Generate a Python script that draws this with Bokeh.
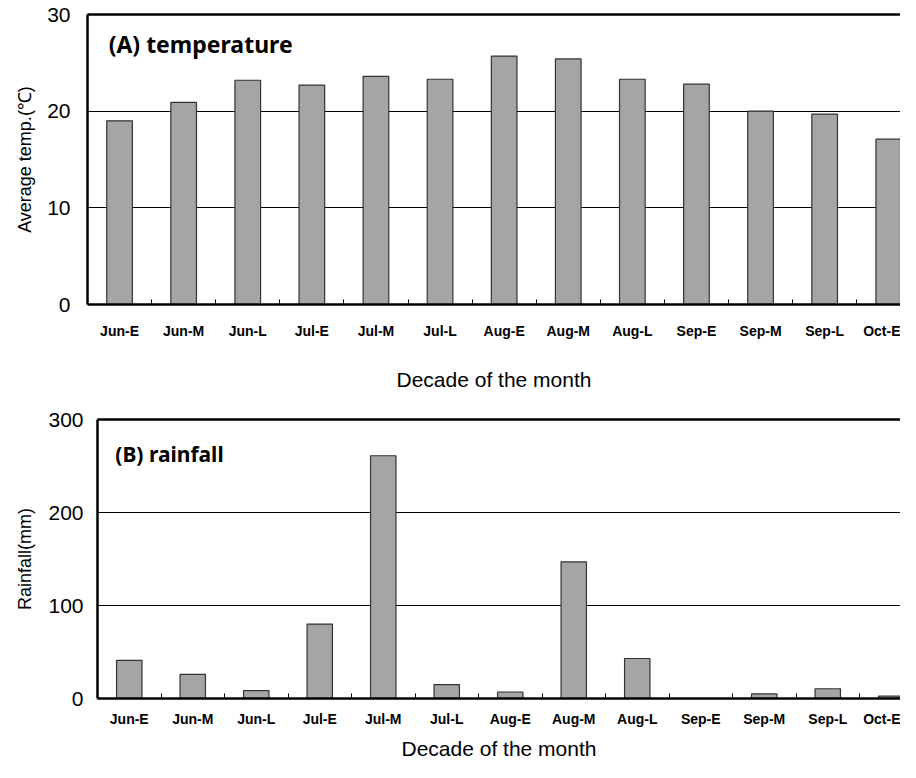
from bokeh.plotting import figure
from bokeh.models import Range1d, FixedTicker, LinearAxis, Label, ColumnDataSource
from bokeh.layouts import column, row
from bokeh.embed import file_html
from bokeh.resources import INLINE

decades = ["Jun-E", "Jun-M", "Jun-L", "Jul-E", "Jul-M", "Jul-L", "Aug-E",
           "Aug-M", "Aug-L", "Sep-E", "Sep-M", "Sep-L", "Oct-E"]
temperature = [19.0, 20.9, 23.2, 22.7, 23.6, 23.3, 25.7, 25.4, 23.3, 22.8, 20.0, 19.7, 17.1]
rainfall = [41, 26, 8.5, 80, 261, 15, 7, 147, 43, 0, 5, 10.5, 2.5]
temp_ticks = [0, 10, 20, 30]
rain_ticks = [0, 100, 200, 300]

FONT = "Liberation Sans"
W = 900


def make_panel(values, yticks, ylabel, title, title_size, title_xy,
               height, mb_left, mb_top, mb_bottom, x_start, slot_px,
               tick_standoff, label_standoff, ylab_standoff, ytick_standoff):
    pos = list(range(1, len(decades) + 1))
    src = ColumnDataSource(dict(x=pos, top=values, name=decades))
    x_end = x_start + (W - mb_left) / slot_px
    p = figure(width=W, height=height, output_backend="svg", toolbar_location=None,
               x_range=Range1d(x_start, x_end), y_range=Range1d(yticks[0], yticks[-1]),
               min_border_left=mb_left, min_border_right=0,
               min_border_top=mb_top, min_border_bottom=mb_bottom,
               background_fill_color="white", border_fill_color="white")
    p.outline_line_color = None
    p.vbar(x="x", top="top", width=0.4, source=src, fill_color="#a5a5a5",
           line_color="#333333", line_width=1.2)

    xa = p.xaxis[0]
    xa.ticker = FixedTicker(ticks=pos, minor_ticks=[v + 0.5 for v in pos])
    xa.major_label_overrides = {v: d for v, d in zip(pos, decades)}
    xa.axis_line_width = 2.5
    xa.axis_line_color = "black"
    xa.major_tick_in = 0
    xa.major_tick_out = 0
    xa.minor_tick_in = 5
    xa.minor_tick_out = 0
    xa.minor_tick_line_color = "black"
    xa.minor_tick_line_width = 1
    xa.major_label_text_font = FONT
    xa.major_label_text_font_style = "bold"
    xa.major_label_text_font_size = "14px"
    xa.major_label_text_color = "black"
    xa.major_label_standoff = tick_standoff
    xa.axis_label = "Decade of the month"
    xa.axis_label_text_font = FONT
    xa.axis_label_text_font_style = "normal"
    xa.axis_label_text_font_size = "21px"
    xa.axis_label_text_color = "black"
    xa.axis_label_standoff = label_standoff

    ya = p.yaxis[0]
    ya.ticker = FixedTicker(ticks=yticks)
    ya.axis_line_width = 2.5
    ya.axis_line_color = "black"
    ya.major_tick_in = 0
    ya.major_tick_out = 0
    ya.minor_tick_line_color = None
    ya.major_label_text_font = FONT
    ya.major_label_text_font_size = "21px"
    ya.major_label_text_color = "black"
    ya.major_label_standoff = ytick_standoff
    ya.axis_label = ylabel
    ya.axis_label_text_font = FONT
    ya.axis_label_text_font_style = "normal"
    ya.axis_label_text_font_size = "18px"
    ya.axis_label_text_color = "black"
    ya.axis_label_standoff = ylab_standoff

    top_axis = LinearAxis(ticker=FixedTicker(ticks=[]), axis_line_width=2.5,
                          axis_line_color="black", major_tick_out=0, major_tick_in=0,
                          minor_tick_out=0, minor_tick_in=0, major_label_standoff=0,
                          major_label_text_font_size="0px")
    p.add_layout(top_axis, "above")

    p.xgrid.grid_line_color = None
    p.ygrid.ticker = FixedTicker(ticks=yticks)
    p.ygrid.grid_line_color = "black"
    p.ygrid.grid_line_width = 1.2

    p.add_layout(Label(x=title_xy[0], y=title_xy[1], text=title, text_font="Noto Sans",
                       text_font_style="bold", text_font_size=title_size,
                       text_baseline="middle", text_color="black"))
    return p


p1 = make_panel(temperature, temp_ticks, "Average temp.(\u2103)", "(A) temperature", "23px",
                (0.83, 27.0), height=405, mb_left=87, mb_top=14, mb_bottom=101,
                x_start=0.5, slot_px=64.1, tick_standoff=18, label_standoff=26,
                ylab_standoff=9, ytick_standoff=17)
p2 = make_panel(rainfall, rain_ticks, "Rainfall(mm)", "(B) rainfall", "21px",
                (0.78, 263.0), height=357, mb_left=97, mb_top=14, mb_bottom=64,
                x_start=0.5, slot_px=63.5, tick_standoff=12, label_standoff=7,
                ylab_standoff=10, ytick_standoff=14)

layout = column(row(p1), row(p2), spacing=0)
open("out.html", "w").write(file_html(layout, INLINE))
